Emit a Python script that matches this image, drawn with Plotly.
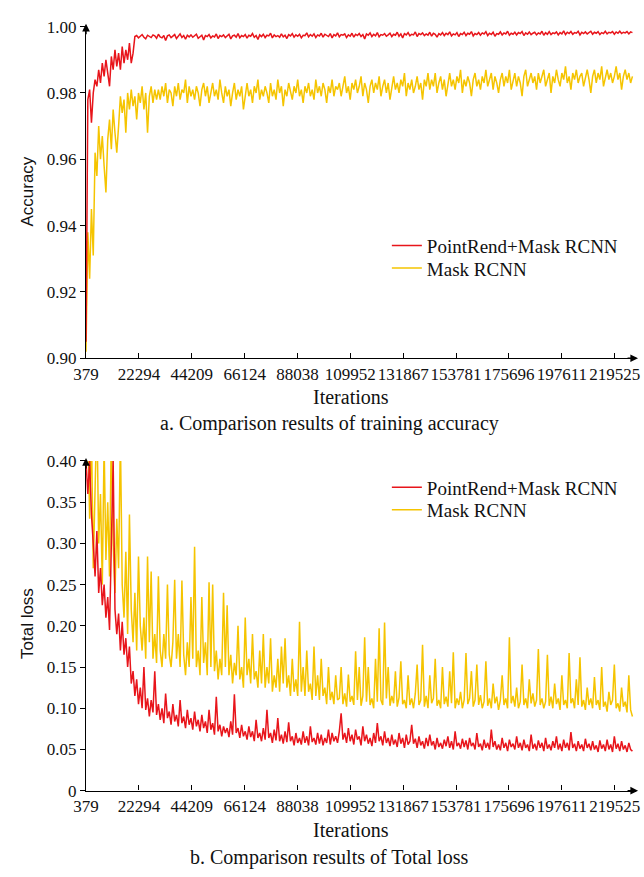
import plotly.graph_objects as go

# ---------------- data ----------------
ITER_START = 379
ITER_STEP = 750

tick_iters = [379, 22294, 44209, 66124, 88038, 109952, 131867, 153781, 175696, 197611, 219525]
tick_iter_text = [str(v) for v in tick_iters]

acc_ticks = [0.90, 0.92, 0.94, 0.96, 0.98, 1.00]
acc_tick_text = ["0.90", "0.92", "0.94", "0.96", "0.98", "1.00"]

loss_ticks = [0, 0.05, 0.10, 0.15, 0.20, 0.25, 0.30, 0.35, 0.40]
loss_tick_text = ["0", "0.05", "0.10", "0.15", "0.20", "0.25", "0.30", "0.35", "0.40"]

acc_pointrend = [
    0.905, 0.978, 0.981, 0.971, 0.980, 0.984, 0.982, 0.987, 0.983, 0.989,
    0.985, 0.990, 0.986, 0.982, 0.991, 0.987, 0.993, 0.988, 0.992, 0.987,
    0.994, 0.989, 0.993, 0.990, 0.995, 0.989, 0.992, 0.997,
    0.9973, 0.9966, 0.9971, 0.9976, 0.9968, 0.9963, 0.9974, 0.9970, 0.9967, 0.9975,
    0.9972, 0.9965, 0.9977, 0.9969, 0.9966, 0.9973, 0.9958, 0.9972, 0.9975, 0.9967,
    0.9971, 0.9976, 0.9964, 0.9970, 0.9978, 0.9967, 0.9973, 0.9962, 0.9974, 0.9969,
    0.9975, 0.9968, 0.9972, 0.9977, 0.9965, 0.9971, 0.9974, 0.9960, 0.9973, 0.9970,
    0.9976, 0.9966, 0.9972, 0.9969, 0.9978, 0.9964, 0.9973, 0.9970, 0.9975, 0.9967,
    0.9971, 0.9977, 0.9963, 0.9972, 0.9974, 0.9968, 0.9979, 0.9966, 0.9973, 0.9970,
    0.9976, 0.9965, 0.9974, 0.9971, 0.9979, 0.9968, 0.9973, 0.9961, 0.9975, 0.9970,
    0.9977, 0.9967, 0.9974, 0.9972, 0.9980, 0.9966, 0.9975, 0.9970, 0.9973, 0.9968,
    0.9978, 0.9969, 0.9974, 0.9964, 0.9976, 0.9972, 0.9979, 0.9968, 0.9975, 0.9971,
    0.9977, 0.9966, 0.9974, 0.9973, 0.9981, 0.9969, 0.9976, 0.9971, 0.9978, 0.9967,
    0.9975, 0.9972, 0.9980, 0.9968, 0.9977, 0.9973, 0.9970, 0.9979, 0.9966, 0.9976,
    0.9972, 0.9981, 0.9969, 0.9976, 0.9974, 0.9978, 0.9967, 0.9975, 0.9971, 0.9980,
    0.9968, 0.9977, 0.9973, 0.9979, 0.9970, 0.9976, 0.9963, 0.9978, 0.9974, 0.9981,
    0.9970, 0.9977, 0.9972, 0.9982, 0.9969, 0.9976, 0.9974, 0.9979, 0.9971, 0.9975,
    0.9980, 0.9970, 0.9977, 0.9974, 0.9983, 0.9971, 0.9978, 0.9966, 0.9979, 0.9975,
    0.9982, 0.9972, 0.9977, 0.9975, 0.9984, 0.9970, 0.9979, 0.9976, 0.9981, 0.9973,
    0.9978, 0.9974, 0.9983, 0.9971, 0.9980, 0.9977, 0.9968, 0.9979, 0.9975, 0.9982,
    0.9973, 0.9980, 0.9976, 0.9984, 0.9972, 0.9978, 0.9975, 0.9982, 0.9970, 0.9979,
    0.9976, 0.9983, 0.9973, 0.9980, 0.9977, 0.9985, 0.9972, 0.9979, 0.9976, 0.9982,
    0.9974, 0.9981, 0.9978, 0.9985, 0.9973, 0.9980, 0.9976, 0.9983, 0.9971, 0.9979,
    0.9977, 0.9984, 0.9975, 0.9981, 0.9978, 0.9986, 0.9974, 0.9980, 0.9977, 0.9983,
    0.9975, 0.9982, 0.9979, 0.9985, 0.9973, 0.9981, 0.9977, 0.9984, 0.9976, 0.9980,
    0.9983, 0.9975, 0.9981, 0.9978, 0.9986, 0.9974, 0.9982, 0.9977, 0.9985, 0.9976,
    0.9981, 0.9979, 0.9984, 0.9975, 0.9982, 0.9978, 0.9987, 0.9976, 0.9983, 0.9979,
    0.9985, 0.9977, 0.9982, 0.9980, 0.9986, 0.9975, 0.9983, 0.9979, 0.9984, 0.9978,
    0.9982, 0.9986, 0.9977, 0.9983, 0.9980, 0.9985, 0.9976, 0.9982, 0.9979, 0.9986,
    0.9978, 0.9983, 0.9981, 0.9985, 0.9977, 0.9984, 0.9980, 0.9986, 0.9979, 0.9983,
    0.9981, 0.9985, 0.9978, 0.9984, 0.9982,
]

acc_mask = [
    0.902, 0.938, 0.924, 0.945, 0.931, 0.962, 0.955, 0.970, 0.960, 0.967,
    0.958, 0.950, 0.966, 0.972, 0.963, 0.975, 0.968, 0.962, 0.970, 0.979,
    0.974, 0.978, 0.968, 0.980, 0.975, 0.981, 0.976, 0.979, 0.972, 0.980,
    0.977, 0.982, 0.975, 0.980, 0.968, 0.979, 0.982, 0.977, 0.981, 0.978,
    0.981, 0.978, 0.982, 0.979, 0.983, 0.977, 0.981, 0.980, 0.976, 0.982,
    0.979, 0.983, 0.978, 0.981, 0.980, 0.984, 0.977, 0.982, 0.979, 0.981,
    0.978, 0.982, 0.980, 0.976, 0.981, 0.983, 0.979, 0.982, 0.977, 0.980,
    0.983, 0.979, 0.981, 0.978, 0.984, 0.980, 0.977, 0.982, 0.979, 0.981,
    0.976, 0.980, 0.983, 0.978, 0.981, 0.979, 0.982, 0.975, 0.980, 0.983,
    0.979, 0.981, 0.977, 0.982, 0.980, 0.984, 0.978, 0.981, 0.979, 0.982,
    0.980, 0.977, 0.983, 0.979, 0.981, 0.978, 0.984, 0.980, 0.982, 0.976,
    0.981, 0.979, 0.983, 0.980, 0.978, 0.982, 0.980, 0.984, 0.979, 0.981,
    0.977, 0.982, 0.980, 0.983, 0.979, 0.981, 0.978, 0.984, 0.980, 0.982,
    0.979, 0.983, 0.981, 0.977, 0.982, 0.980, 0.984, 0.979, 0.982, 0.981,
    0.983, 0.979, 0.982, 0.985, 0.980, 0.982, 0.978, 0.983, 0.981, 0.984,
    0.980, 0.982, 0.985, 0.979, 0.983, 0.981, 0.977, 0.982, 0.984, 0.980,
    0.983, 0.981, 0.985, 0.979, 0.982, 0.984, 0.980, 0.983, 0.978, 0.982,
    0.985, 0.981, 0.983, 0.980, 0.984, 0.982, 0.986, 0.979, 0.983, 0.981,
    0.984, 0.980, 0.982, 0.985, 0.981, 0.983, 0.978, 0.984, 0.982, 0.986,
    0.981, 0.984, 0.982, 0.986, 0.980, 0.983, 0.985, 0.981, 0.984, 0.979,
    0.983, 0.986, 0.982, 0.984, 0.981, 0.985, 0.983, 0.987, 0.980, 0.984,
    0.982, 0.985, 0.983, 0.979, 0.984, 0.986, 0.982, 0.984, 0.981, 0.985,
    0.983, 0.987, 0.982, 0.984, 0.986, 0.981, 0.985, 0.983, 0.980, 0.984,
    0.986, 0.982, 0.985, 0.983, 0.987, 0.981, 0.984, 0.986, 0.982, 0.985,
    0.983, 0.979, 0.985, 0.987, 0.982, 0.984, 0.986, 0.983, 0.985, 0.981,
    0.986, 0.983, 0.985, 0.987, 0.982, 0.984, 0.986, 0.980, 0.985, 0.983,
    0.987, 0.984, 0.982, 0.986, 0.984, 0.988, 0.983, 0.985, 0.981, 0.986,
    0.984, 0.987, 0.983, 0.985, 0.986, 0.982, 0.985, 0.987, 0.984, 0.980,
    0.985, 0.987, 0.983, 0.986, 0.984, 0.988, 0.982, 0.985, 0.987, 0.984,
    0.986, 0.983, 0.985, 0.988, 0.984, 0.986, 0.981, 0.985, 0.987, 0.984,
    0.986, 0.983, 0.985,
]

loss_pointrend = [
    0.400, 0.360, 0.400, 0.335, 0.300, 0.260, 0.315, 0.240, 0.270, 0.225,
    0.250, 0.210, 0.235, 0.195, 0.300, 0.400, 0.220, 0.190, 0.215, 0.170,
    0.205, 0.165, 0.185, 0.150, 0.175, 0.130, 0.145, 0.115, 0.135, 0.105,
    0.125, 0.100, 0.150, 0.098, 0.112, 0.090, 0.110, 0.095, 0.145, 0.092,
    0.105, 0.086, 0.100, 0.082, 0.118, 0.088, 0.096, 0.080, 0.105, 0.084,
    0.092, 0.078, 0.110, 0.082, 0.090, 0.076, 0.098, 0.080, 0.088, 0.074,
    0.096, 0.078, 0.086, 0.072, 0.092, 0.076, 0.084, 0.070, 0.098, 0.074,
    0.082, 0.068, 0.114, 0.072, 0.080, 0.066, 0.078, 0.070, 0.076, 0.065,
    0.084, 0.068, 0.117, 0.070, 0.076, 0.064, 0.080, 0.066, 0.072, 0.062,
    0.078, 0.065, 0.072, 0.060, 0.086, 0.064, 0.070, 0.060, 0.076, 0.062,
    0.098, 0.064, 0.070, 0.058, 0.074, 0.061, 0.088, 0.060, 0.068, 0.057,
    0.072, 0.059, 0.083, 0.060, 0.066, 0.055, 0.070, 0.058, 0.064, 0.056,
    0.072, 0.058, 0.066, 0.055, 0.078, 0.059, 0.064, 0.056, 0.070, 0.057,
    0.068, 0.055, 0.064, 0.058, 0.074, 0.056, 0.070, 0.060, 0.066, 0.058,
    0.072, 0.094, 0.062, 0.070, 0.058, 0.076, 0.060, 0.068, 0.056, 0.074,
    0.062, 0.066, 0.055, 0.078, 0.060, 0.068, 0.057, 0.064, 0.054, 0.070,
    0.058, 0.082, 0.060, 0.066, 0.055, 0.072, 0.058, 0.064, 0.054, 0.068,
    0.056, 0.062, 0.053, 0.070, 0.057, 0.064, 0.052, 0.068, 0.056, 0.060,
    0.080, 0.057, 0.063, 0.052, 0.066, 0.055, 0.060, 0.051, 0.064, 0.054,
    0.068, 0.055, 0.060, 0.050, 0.064, 0.053, 0.058, 0.051, 0.062, 0.054,
    0.066, 0.052, 0.060, 0.050, 0.072, 0.054, 0.058, 0.051, 0.063, 0.053,
    0.061, 0.050, 0.064, 0.054, 0.058, 0.050, 0.070, 0.053, 0.057, 0.049,
    0.062, 0.052, 0.058, 0.050, 0.074, 0.053, 0.060, 0.050, 0.056, 0.049,
    0.064, 0.052, 0.058, 0.048, 0.062, 0.053, 0.057, 0.050, 0.066, 0.052,
    0.058, 0.049, 0.062, 0.052, 0.056, 0.048, 0.068, 0.051, 0.057, 0.049,
    0.061, 0.052, 0.058, 0.048, 0.064, 0.051, 0.056, 0.049, 0.060, 0.052,
    0.066, 0.050, 0.057, 0.048, 0.062, 0.052, 0.058, 0.049, 0.071, 0.052,
    0.057, 0.048, 0.060, 0.051, 0.056, 0.048, 0.063, 0.052, 0.057, 0.049,
    0.060, 0.050, 0.055, 0.047, 0.061, 0.051, 0.056, 0.048, 0.062, 0.050,
    0.056, 0.047, 0.066, 0.051, 0.057, 0.048, 0.060, 0.050, 0.055, 0.047,
    0.058, 0.050, 0.048,
]

loss_mask = [
    0.400, 0.450, 0.330, 0.440, 0.270, 0.380, 0.460, 0.300, 0.360, 0.250,
    0.420, 0.280, 0.350, 0.260, 0.440, 0.300, 0.240, 0.330, 0.270, 0.430,
    0.250, 0.210, 0.290, 0.190, 0.335, 0.220, 0.180, 0.240, 0.170, 0.284,
    0.200, 0.170, 0.210, 0.160, 0.284, 0.180, 0.266, 0.160, 0.190, 0.155,
    0.260, 0.170, 0.150, 0.190, 0.160, 0.250, 0.165, 0.150, 0.180, 0.256,
    0.160, 0.190, 0.150, 0.255, 0.165, 0.140, 0.180, 0.150, 0.235, 0.160,
    0.296, 0.150, 0.170, 0.140, 0.235, 0.155, 0.180, 0.140, 0.253, 0.150,
    0.250, 0.145, 0.170, 0.135, 0.160, 0.140, 0.240, 0.150, 0.225, 0.140,
    0.165, 0.130, 0.155, 0.140, 0.200, 0.135, 0.150, 0.125, 0.210, 0.140,
    0.160, 0.130, 0.190, 0.135, 0.145, 0.125, 0.170, 0.130, 0.190, 0.125,
    0.150, 0.130, 0.185, 0.120, 0.140, 0.125, 0.160, 0.120, 0.175, 0.130,
    0.185, 0.125, 0.140, 0.115, 0.160, 0.120, 0.135, 0.115, 0.205, 0.120,
    0.150, 0.115, 0.170, 0.120, 0.130, 0.110, 0.175, 0.115, 0.140, 0.110,
    0.160, 0.115, 0.125, 0.105, 0.150, 0.110, 0.120, 0.105, 0.140, 0.110,
    0.112, 0.150, 0.105, 0.118, 0.102, 0.141, 0.108, 0.115, 0.104, 0.169,
    0.110, 0.150, 0.103, 0.115, 0.186, 0.108, 0.150, 0.104, 0.112, 0.100,
    0.160, 0.108, 0.197, 0.110, 0.104, 0.204, 0.112, 0.150, 0.103, 0.115,
    0.106, 0.145, 0.102, 0.113, 0.157, 0.105, 0.110, 0.100, 0.140, 0.104,
    0.112, 0.100, 0.118, 0.153, 0.104, 0.110, 0.177, 0.102, 0.115, 0.100,
    0.140, 0.106, 0.112, 0.160, 0.103, 0.110, 0.100, 0.150, 0.105, 0.114,
    0.102, 0.145, 0.106, 0.168, 0.100, 0.112, 0.104, 0.120, 0.100, 0.110,
    0.167, 0.105, 0.112, 0.145, 0.102, 0.110, 0.153, 0.104, 0.116, 0.100,
    0.108, 0.157, 0.103, 0.112, 0.100, 0.130, 0.106, 0.114, 0.098, 0.110,
    0.140, 0.104, 0.112, 0.100, 0.186, 0.106, 0.115, 0.102, 0.125, 0.100,
    0.108, 0.153, 0.104, 0.112, 0.100, 0.135, 0.106, 0.118, 0.102, 0.110,
    0.172, 0.104, 0.112, 0.100, 0.108, 0.165, 0.103, 0.114, 0.100, 0.130,
    0.105, 0.112, 0.098, 0.140, 0.104, 0.110, 0.100, 0.167, 0.106, 0.112,
    0.100, 0.135, 0.104, 0.162, 0.102, 0.110, 0.098, 0.125, 0.104, 0.112,
    0.100, 0.138, 0.104, 0.110, 0.098, 0.150, 0.102, 0.108, 0.096, 0.120,
    0.104, 0.110, 0.153, 0.100, 0.106, 0.096, 0.125, 0.102, 0.108, 0.095,
    0.140, 0.098, 0.090,
]

series_names = ["PointRend+Mask RCNN", "Mask RCNN"]
x_title = "Iterations"
y_titles = ["Accuracy", "Total loss"]
captions = ["a. Comparison results of training accuracy", "b. Comparison results of Total loss"]


def iters(values):
    return [ITER_START + ITER_STEP * i for i in range(len(values))]


# ---------------- styling ----------------
W, H = 644, 877
RED = "#e8151b"
YEL = "#f5c400"
SERIF = "Liberation Serif"
SANS = "Liberation Sans"


def px(p):
    return p / W


def py(p):
    return 1 - p / H


X_RANGE = [379, 228400]
LW = 1.5

fig = go.Figure()

# top: accuracy (yellow drawn first, red on top)
fig.add_trace(go.Scatter(x=iters(acc_mask), y=acc_mask, mode="lines", name=series_names[1],
                         line=dict(color=YEL, width=LW), xaxis="x", yaxis="y",
                         legend="legend2", showlegend=True))
fig.add_trace(go.Scatter(x=iters(acc_pointrend), y=acc_pointrend, mode="lines", name=series_names[0],
                         line=dict(color=RED, width=LW), xaxis="x", yaxis="y",
                         legend="legend", showlegend=True))
# bottom: loss
fig.add_trace(go.Scatter(x=iters(loss_mask), y=loss_mask, mode="lines", name=series_names[1],
                         line=dict(color=YEL, width=LW), xaxis="x2", yaxis="y2",
                         legend="legend4", showlegend=True))
fig.add_trace(go.Scatter(x=iters(loss_pointrend), y=loss_pointrend, mode="lines", name=series_names[0],
                         line=dict(color=RED, width=LW), xaxis="x2", yaxis="y2",
                         legend="legend3", showlegend=True))

axis_common = dict(showline=True, linecolor="black", linewidth=1.4, showgrid=False,
                   zeroline=False, tickcolor="black", tickwidth=1.2, ticklen=5,
                   tickangle=0,
                   tickfont=dict(family=SERIF, size=17, color="#111"))


def leg(ycenter):
    return dict(x=px(384), y=py(ycenter), xanchor="left", yanchor="middle",
                font=dict(family=SERIF, size=19, color="#111"),
                bgcolor="rgba(0,0,0,0)", itemwidth=30, visible=True)


fig.update_layout(
    width=W, height=H,
    margin=dict(l=0, r=0, t=0, b=0),
    paper_bgcolor="white", plot_bgcolor="white",
    showlegend=True,
    xaxis=dict(domain=[px(75), px(640)], range=X_RANGE, anchor="y",
               tickmode="array", tickvals=tick_iters, ticktext=tick_iter_text,
               ticks="inside", **axis_common),
    yaxis=dict(domain=[py(357), py(18)], range=[0.90, 1.00], anchor="x",
               tickmode="array", tickvals=acc_ticks, ticktext=acc_tick_text,
               ticks="outside", **axis_common),
    xaxis2=dict(domain=[px(75), px(640)], range=X_RANGE, anchor="y2",
                tickmode="array", tickvals=tick_iters, ticktext=tick_iter_text,
                ticks="inside", **axis_common),
    yaxis2=dict(domain=[py(799), py(462)], range=[0, 0.40], anchor="x2",
                tickmode="array", tickvals=loss_ticks, ticktext=loss_tick_text,
                ticks="outside", **axis_common),
    legend=leg(242),
    legend2=leg(265),
    legend3=leg(489),
    legend4=leg(512),
)

ann = []
txt_font = dict(family=SERIF, size=20, color="#111")
# x titles
for yc in (397, 839):
    ann.append(dict(text=x_title, x=px(347), y=py(yc), xref="paper", yref="paper",
                    showarrow=False, font=txt_font, xanchor="center", yanchor="middle"))
# captions
for cap, yc in zip(captions, (424, 867)):
    ann.append(dict(text=cap, x=px(325), y=py(yc), xref="paper", yref="paper",
                    showarrow=False, font=txt_font, xanchor="center", yanchor="middle"))
# y titles (sans-serif in the reference)
for t, yc in zip(y_titles, (187, 628)):
    ann.append(dict(text=t, x=px(15), y=py(yc), xref="paper", yref="paper", textangle=-90,
                    showarrow=False, font=dict(family=SANS, size=17, color="#111"),
                    xanchor="center", yanchor="middle"))
# axis arrows
for top, base in ((18, 357), (462, 799)):
    ann.append(dict(text="", x=px(75), y=py(top - 3), xref="paper", yref="paper",
                    showarrow=True, ax=0, ay=12, arrowhead=2, arrowsize=1.1,
                    arrowwidth=1.4, arrowcolor="black"))
    ann.append(dict(text="", x=px(642), y=py(base), xref="paper", yref="paper",
                    showarrow=True, ax=-12, ay=0, arrowhead=2, arrowsize=1.1,
                    arrowwidth=1.4, arrowcolor="black"))
fig.update_layout(annotations=ann)

fig.write_html("out.html")
